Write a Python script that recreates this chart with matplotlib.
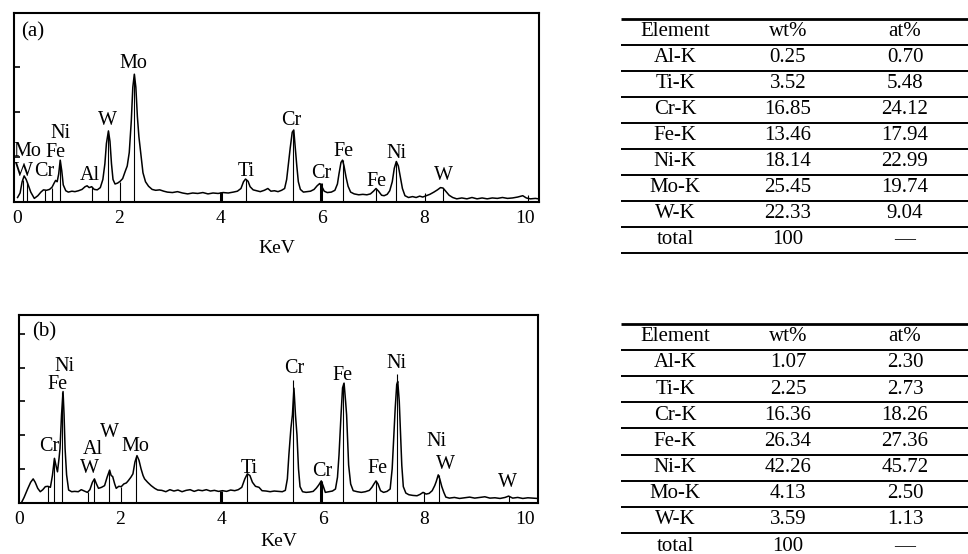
import matplotlib.pyplot as plt

plt.rcParams['font.family'] = ['Liberation Serif', 'DejaVu Serif']
plt.rcParams['font.size'] = 14

# ---- spectrum (a), energy in keV, intensity in arb. units (1 unit = 1 tick)
kev_a = [0.00, 0.05, 0.09, 0.13, 0.17, 0.21, 0.26, 0.33, 0.40, 0.46, 0.51, 0.57, 0.63,
         0.68, 0.72, 0.75, 0.78, 0.81, 0.84, 0.87, 0.90, 0.95, 1.00, 1.07, 1.13, 1.20,
         1.27, 1.33, 1.37, 1.41, 1.46, 1.51, 1.57, 1.63, 1.68, 1.72, 1.75, 1.79, 1.82,
         1.85, 1.88, 1.92, 1.97, 2.02, 2.07, 2.12, 2.16, 2.20, 2.24, 2.27, 2.30, 2.33,
         2.36, 2.39, 2.43, 2.47, 2.52, 2.58, 2.65, 2.72, 2.80, 2.88, 2.95, 3.05, 3.15,
         3.25, 3.35, 3.45, 3.55, 3.65, 3.75, 3.85, 3.95, 4.05, 4.15, 4.25, 4.33, 4.40,
         4.45, 4.49, 4.54, 4.58, 4.64, 4.71, 4.78, 4.86, 4.93, 4.99, 5.06, 5.13, 5.20,
         5.26, 5.30, 5.33, 5.37, 5.41, 5.44, 5.47, 5.50, 5.53, 5.57, 5.63, 5.70, 5.77,
         5.84, 5.90, 5.95, 5.99, 6.04, 6.10, 6.18, 6.25, 6.30, 6.33, 6.37, 6.40, 6.43,
         6.47, 6.51, 6.56, 6.63, 6.72, 6.80, 6.88, 6.95, 7.01, 7.06, 7.11, 7.17, 7.22,
         7.28, 7.33, 7.38, 7.42, 7.46, 7.50, 7.54, 7.58, 7.63, 7.70, 7.78, 7.85, 7.92,
         7.98, 8.05, 8.12, 8.20, 8.27, 8.33, 8.38, 8.44, 8.50, 8.57, 8.65, 8.75, 8.85,
         8.95, 9.05, 9.15, 9.25, 9.35, 9.45, 9.55, 9.65, 9.75, 9.85, 9.95, 10.02, 10.10,
         10.20, 10.26]
cnt_a = [0.10, 0.20, 0.45, 0.58, 0.50, 0.38, 0.22, 0.08, 0.14, 0.22, 0.27, 0.26, 0.28,
         0.33, 0.42, 0.48, 0.45, 0.62, 0.93, 0.70, 0.38, 0.25, 0.22, 0.24, 0.23, 0.25,
         0.28, 0.34, 0.36, 0.32, 0.34, 0.28, 0.27, 0.32, 0.50, 0.85, 1.30, 1.58, 1.35,
         0.85, 0.50, 0.40, 0.42, 0.46, 0.52, 0.68, 0.80, 1.10, 1.80, 2.55, 2.84, 2.55,
         1.90, 1.45, 1.05, 0.65, 0.45, 0.35, 0.28, 0.26, 0.27, 0.24, 0.22, 0.21, 0.23,
         0.20, 0.18, 0.20, 0.19, 0.21, 0.18, 0.20, 0.19, 0.21, 0.20, 0.22, 0.24, 0.30,
         0.45, 0.51, 0.46, 0.34, 0.27, 0.25, 0.23, 0.26, 0.30, 0.24, 0.25, 0.23, 0.26,
         0.30, 0.50, 0.80, 1.20, 1.55, 1.60, 1.20, 0.80, 0.45, 0.28, 0.22, 0.23, 0.24,
         0.28, 0.36, 0.41, 0.35, 0.24, 0.21, 0.22, 0.26, 0.40, 0.62, 0.88, 0.93, 0.80,
         0.55, 0.35, 0.22, 0.18, 0.16, 0.17, 0.16, 0.18, 0.24, 0.30, 0.24, 0.15, 0.14,
         0.17, 0.25, 0.45, 0.75, 0.90, 0.80, 0.55, 0.30, 0.14, 0.10, 0.12, 0.10, 0.13,
         0.11, 0.14, 0.17, 0.22, 0.27, 0.32, 0.31, 0.23, 0.15, 0.10, 0.07, 0.09, 0.07,
         0.10, 0.07, 0.09, 0.07, 0.09, 0.08, 0.10, 0.08, 0.09, 0.11, 0.14, 0.09, 0.07,
         0.08, 0.07]

# element marker lines in (a): position and top
mark_a_x = [0.11, 0.18, 0.54, 0.67, 0.84, 1.46, 1.79, 2.02, 2.30, 4.50, 5.42, 6.40, 7.06,
            7.46, 8.02, 8.38, 10.05]
mark_a_top = [0.50, 0.45, 0.27, 0.32, 0.93, 0.34, 1.58, 0.45, 2.84, 0.51, 1.60, 0.93, 0.30,
              0.90, 0.20, 0.32, 0.15]
mark_a_bold_x = [4.00, 5.97]
mark_a_bold_top = [0.22, 0.42]

# ---- spectrum (b)
kev_b = [0.05, 0.10, 0.17, 0.23, 0.28, 0.32, 0.37, 0.42, 0.47, 0.52, 0.57, 0.62, 0.66,
         0.70, 0.73, 0.76, 0.79, 0.81, 0.84, 0.87, 0.89, 0.91, 0.94, 0.98, 1.04, 1.10,
         1.17, 1.23, 1.29, 1.35, 1.40, 1.45, 1.49, 1.53, 1.57, 1.63, 1.69, 1.74, 1.79,
         1.82, 1.85, 1.89, 1.92, 1.97, 2.02, 2.07, 2.12, 2.16, 2.21, 2.25, 2.29, 2.33,
         2.37, 2.41, 2.45, 2.48, 2.54, 2.61, 2.68, 2.74, 2.82, 2.90, 2.98, 3.06, 3.14,
         3.22, 3.30, 3.38, 3.46, 3.54, 3.62, 3.70, 3.78, 3.86, 3.94, 4.02, 4.10, 4.18,
         4.26, 4.33, 4.40, 4.46, 4.51, 4.56, 4.61, 4.67, 4.74, 4.80, 4.88, 4.96, 5.04,
         5.12, 5.20, 5.26, 5.30, 5.33, 5.37, 5.40, 5.43, 5.46, 5.49, 5.52, 5.55, 5.60,
         5.67, 5.74, 5.81, 5.87, 5.92, 5.97, 6.01, 6.05, 6.12, 6.19, 6.25, 6.29, 6.32,
         6.36, 6.39, 6.42, 6.45, 6.47, 6.51, 6.55, 6.60, 6.68, 6.76, 6.84, 6.92, 6.97,
         7.01, 7.05, 7.09, 7.14, 7.20, 7.27, 7.33, 7.37, 7.40, 7.43, 7.46, 7.48, 7.51,
         7.54, 7.56, 7.59, 7.64, 7.70, 7.78, 7.86, 7.92, 7.98, 8.04, 8.10, 8.16, 8.21,
         8.24, 8.28, 8.31, 8.35, 8.39, 8.43, 8.50, 8.60, 8.70, 8.80, 8.90, 9.00, 9.10,
         9.20, 9.30, 9.40, 9.50, 9.60, 9.67, 9.75, 9.85, 9.95, 10.05, 10.15, 10.24]
cnt_b = [0.00, 0.15, 0.40, 0.60, 0.70, 0.60, 0.42, 0.32, 0.38, 0.47, 0.48, 0.45, 0.80,
         1.31, 1.10, 0.91, 1.30, 1.60, 2.60, 3.29, 2.60, 1.60, 0.82, 0.37, 0.32, 0.33,
         0.32, 0.38, 0.34, 0.30, 0.38, 0.60, 0.70, 0.55, 0.42, 0.45, 0.50, 0.75, 0.96,
         0.80, 0.77, 0.55, 0.42, 0.48, 0.47, 0.55, 0.58, 0.65, 0.75, 0.85, 1.20, 1.39,
         1.25, 1.00, 0.80, 0.70, 0.60, 0.50, 0.42, 0.37, 0.36, 0.32, 0.38, 0.34, 0.37,
         0.32, 0.36, 0.38, 0.33, 0.37, 0.35, 0.38, 0.34, 0.36, 0.33, 0.35, 0.33, 0.37,
         0.35, 0.38, 0.45, 0.70, 0.85, 0.80, 0.60, 0.48, 0.45, 0.35, 0.34, 0.32, 0.34,
         0.33, 0.32, 0.36, 0.70, 1.41, 2.20, 2.60, 3.39, 2.60, 2.00, 1.00, 0.47, 0.32,
         0.30, 0.31, 0.33, 0.42, 0.52, 0.64, 0.48, 0.30, 0.32, 0.34, 0.40, 0.75, 1.41,
         2.60, 3.40, 3.54, 3.00, 2.60, 1.11, 0.55, 0.35, 0.32, 0.30, 0.32, 0.36, 0.45,
         0.55, 0.64, 0.55, 0.35, 0.30, 0.33, 0.40, 1.00, 1.90, 2.80, 3.50, 3.59, 3.00,
         1.90, 1.10, 0.47, 0.28, 0.23, 0.21, 0.20, 0.24, 0.30, 0.25, 0.27, 0.35, 0.50,
         0.62, 0.82, 0.70, 0.47, 0.30, 0.16, 0.13, 0.15, 0.12, 0.14, 0.16, 0.13, 0.15,
         0.17, 0.13, 0.14, 0.12, 0.15, 0.19, 0.13, 0.15, 0.12, 0.14, 0.13, 0.12]

mark_b_x = [0.57, 0.70, 0.85, 1.37, 1.49, 1.78, 2.02, 2.31, 4.51, 5.42, 6.40, 7.06, 7.47,
            8.00, 8.29, 9.67]
mark_b_top = [0.48, 1.31, 3.29, 0.30, 0.70, 0.96, 0.47, 1.35, 0.85, 3.63, 3.54, 0.64, 3.80,
              0.30, 0.82, 0.19]
mark_b_bold_x = [3.99, 5.97]
mark_b_bold_top = [0.35, 0.64]

# ---- peak labels (text, keV, height)
labels_a = [("Mo", 2.29, 3.08), ("W", 1.78, 1.80), ("Ni", 0.84, 1.52), ("Fe", 0.74, 1.10),
            ("Mo", 0.20, 1.12), ("W", 0.12, 0.68), ("Cr", 0.53, 0.67), ("Al", 1.43, 0.60),
            ("Ti", 4.50, 0.67), ("Cr", 5.40, 1.82), ("Cr", 5.99, 0.64), ("Fe", 6.41, 1.12),
            ("Fe", 7.06, 0.45), ("Ni", 7.46, 1.08), ("W", 8.38, 0.58)]
labels_b = [("Ni", 0.90, 4.03), ("Fe", 0.76, 3.49), ("Cr", 0.60, 1.66), ("Al", 1.45, 1.58),
            ("W", 1.39, 1.00), ("W", 1.78, 2.08), ("Mo", 2.29, 1.66), ("Ti", 4.54, 1.01),
            ("Cr", 5.43, 3.98), ("Fe", 6.38, 3.76), ("Ni", 7.46, 4.13), ("Cr", 5.99, 0.93),
            ("Fe", 7.08, 1.01), ("Ni", 8.25, 1.80), ("W", 8.42, 1.14), ("W", 9.65, 0.60)]

# ---- composition tables
elements = ["Al-K", "Ti-K", "Cr-K", "Fe-K", "Ni-K", "Mo-K", "W-K", "total"]
wt_a = ["0.25", "3.52", "16.85", "13.46", "18.14", "25.45", "22.33", "100"]
at_a = ["0.70", "5.48", "24.12", "17.94", "22.99", "19.74", "9.04", "—"]
wt_b = ["1.07", "2.25", "16.36", "26.34", "42.26", "4.13", "3.59", "100"]
at_b = ["2.30", "2.73", "18.26", "27.36", "45.72", "2.50", "1.13", "—"]

W, H = 968, 554
fig = plt.figure(figsize=(W / 100, H / 100), dpi=100)


def spectrum(rect, xlim, ylim, nticks, kev, cnt, mx, mtop, bx, btop, labels, tag, tagpos, lpad):
    ax = fig.add_axes(rect)
    ax.plot(kev, cnt, color='black', lw=1.1)
    ax.vlines(mx, 0, mtop, color='black', lw=0.8)
    ax.vlines(bx, 0, btop, color='black', lw=2.2)
    for txt, x, y in labels:
        ax.text(x, y, txt, ha='center', va='center', fontsize=14.5)
    ax.text(tagpos[0], tagpos[1], tag, ha='left', va='center', fontsize=15)
    ax.set_xlim(*xlim)
    ax.set_ylim(*ylim)
    ax.set_xticks([0, 2, 4, 6, 8, 10])
    ax.set_yticks(list(range(1, nticks + 1)))
    ax.set_yticklabels([])
    ax.tick_params(axis='x', length=0, labelsize=14, pad=6)
    ax.tick_params(axis='y', direction='in', length=4, width=1.2)
    ax.set_xlabel("KeV", fontsize=14, labelpad=lpad)
    for s in ax.spines.values():
        s.set_linewidth(1.5)
    return ax


spectrum([14 / W, (H - 202) / H, 525 / W, 189 / H], (-0.07, 10.27), (0, 4.2), 3,
         kev_a, cnt_a, mark_a_x, mark_a_top, mark_a_bold_x, mark_a_bold_top,
         labels_a, "(a)", (0.07, 3.78), 9)
spectrum([19 / W, (H - 502.5) / H, 519 / W, 187.5 / H], (0.03, 10.25), (0, 5.56), 5,
         kev_b, cnt_b, mark_b_x, mark_b_top, mark_b_bold_x, mark_b_bold_top,
         labels_b, "(b)", (0.25, 5.07), 4)

# tables drawn in pixel coordinates
ax_t = fig.add_axes([0, 0, 1, 1])
ax_t.set_xlim(0, W)
ax_t.set_ylim(H, 0)
ax_t.axis('off')


def table(y0, step, wt, at):
    for i in range(10):
        ax_t.hlines(y0 + i * step, 621, W, color='black', lw=2.0 if i == 0 else 1.4)
    rows = [("Element", "wt%", "at%")] + list(zip(elements, wt, at))
    for i, (e, w, a) in enumerate(rows):
        y = y0 + (i + 0.5) * step
        ax_t.text(675, y, e, ha='center', va='center', fontsize=15)
        ax_t.text(788, y, w, ha='center', va='center', fontsize=15)
        ax_t.text(905, y, a, ha='center', va='center', fontsize=15)


table(19, 26.0, wt_a, at_a)
table(323.5, 26.2, wt_b, at_b)

fig.savefig("out.png", dpi=100)
